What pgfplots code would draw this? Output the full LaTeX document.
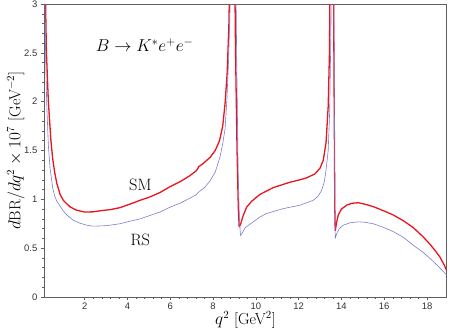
\documentclass[border=0pt]{standalone}
\usepackage{fontspec}
\usepackage{pgfplots}
\pgfplotsset{compat=1.18}
\newfontfamily\tickfont{Liberation Sans}
\definecolor{smred}{RGB}{232,20,30}
\definecolor{rsblue}{RGB}{125,125,205}
\definecolor{axgray}{RGB}{95,95,95}
\begin{document}
\begin{tikzpicture}
\begin{axis}[
  scale only axis, width=402.4bp, height=293bp,
  xmin=0.11, xmax=18.92, ymin=0, ymax=3,
  xtick={2,4,6,8,10,12,14,16,18},
  ytick={0,0.5,1,1.5,2,2.5,3},
  minor x tick num=4, minor y tick num=4,
  tick align=outside, xtick pos=left, ytick pos=left,
  major tick length=3.5bp, minor tick length=2bp,
  axis line style={axgray, line width=0.6bp},
  every tick/.style={axgray, line width=0.5bp},
  ticklabel style={font=\tickfont\fontsize{9.5}{11}\selectfont, text=black!80},
  xticklabel style={yshift=1.5bp},
  /pgf/number format/assume math mode=true,
  xlabel={$q^2$ [GeV$^2$]},
  ylabel={$d\mathrm{BR}/dq^2\times 10^7$ [GeV$^{-2}$]},
  label style={font=\fontsize{16}{19}\selectfont},
  xlabel style={at={(axis description cs:0.5,0)}, anchor=base, yshift=-27.5bp},
  ylabel style={at={(axis description cs:0,0.5)}, anchor=base, yshift=24bp},
  clip=true,
]
\addplot[smred, line width=1.3bp, line join=round] coordinates {
(0.155,3.6) (0.17,3.0) (0.21,2.5) (0.30,2.0) (0.42,1.6) (0.5,1.42) (0.6,1.27) (0.7,1.16) (0.85,1.05) (1.0,0.99)
(1.3,0.925) (1.6,0.89) (2.0,0.87) (2.4,0.872) (2.8,0.885) (3.2,0.895) (3.65,0.915) (4.1,0.95) (4.59,0.99)
(5.05,1.025) (5.52,1.07) (5.99,1.13) (6.45,1.18) (6.9,1.24) (7.2,1.29) (7.27,1.31) (7.33,1.335) (7.5,1.36)
(7.86,1.43) (8.1,1.50) (8.3,1.60) (8.45,1.75) (8.56,1.98) (8.66,2.3) (8.74,2.8) (8.8,3.6)
(9.0,3.6) (9.05,2.5) (9.12,1.5) (9.18,0.9) (9.22,0.72) (9.28,0.74) (9.4,0.83) (9.57,0.92) (9.8,0.98)
(10.19,1.05) (10.81,1.12) (11.59,1.175) (12.06,1.20) (12.37,1.22) (12.76,1.26) (13.0,1.32) (13.15,1.40)
(13.28,1.58) (13.38,1.95) (13.44,2.5) (13.48,3.6) (13.62,3.6) (13.66,2.0) (13.69,0.9) (13.71,0.68)
(13.78,0.77) (13.85,0.84) (14.0,0.90) (14.24,0.94) (14.5,0.96) (14.79,0.965) (15.1,0.95) (15.49,0.925)
(16.0,0.88) (16.42,0.84) (16.9,0.78) (17.36,0.71) (17.8,0.62) (18.14,0.54) (18.4,0.47) (18.6,0.41)
(18.8,0.33) (18.92,0.27)
};
\addplot[rsblue, line width=0.6bp, line join=round] coordinates {
(0.13,3.6) (0.14,3.0) (0.17,2.5) (0.22,2.0) (0.3,1.55) (0.38,1.32) (0.5,1.12) (0.6,1.03) (0.7,0.98)
(0.85,0.93) (1.0,0.88) (1.16,0.84) (1.47,0.785) (1.78,0.755) (2.1,0.735) (2.4,0.725) (3.0,0.73)
(3.65,0.75) (4.1,0.775) (4.59,0.80) (5.05,0.835) (5.52,0.87) (5.99,0.92) (6.45,0.96) (6.9,1.01)
(7.2,1.045) (7.28,1.065) (7.35,1.08) (7.6,1.12) (7.86,1.19) (8.1,1.28) (8.32,1.43) (8.45,1.57)
(8.56,1.72) (8.64,2.0) (8.72,2.4) (8.8,3.0) (8.85,3.6) (9.05,3.6) (9.1,2.5) (9.17,1.3) (9.23,0.8)
(9.28,0.63) (9.35,0.65) (9.5,0.71) (9.88,0.77) (10.2,0.82) (10.5,0.855) (11.28,0.905) (12.06,0.94)
(12.68,0.99) (12.9,1.03) (13.07,1.09) (13.2,1.18) (13.28,1.30) (13.38,1.5) (13.45,1.9) (13.5,2.6)
(13.55,3.6) (13.63,3.6) (13.67,2.0) (13.69,1.0) (13.71,0.6) (13.78,0.65) (13.9,0.70) (14.08,0.735)
(14.4,0.76) (14.79,0.77) (15.1,0.765) (15.49,0.75) (16.0,0.71) (16.42,0.67) (16.9,0.61) (17.36,0.53)
(17.8,0.46) (18.14,0.395) (18.5,0.32) (18.92,0.225)
};
\node[font=\fontsize{16.5}{19}\selectfont] at (axis cs:4.8,2.58) {$B\to K^{*}e^{+}e^{-}$};
\node[font=\fontsize{16.5}{19}\selectfont] at (axis cs:4.6,1.15) {SM};
\node[font=\fontsize{16.5}{19}\selectfont] at (axis cs:4.6,0.58) {RS};
\end{axis}
\pgfresetboundingbox
\path ([shift={(-44.3bp,-33bp)}]current axis.south west) rectangle ([shift={(3.3bp,4bp)}]current axis.north east);
\end{tikzpicture}
\end{document}
